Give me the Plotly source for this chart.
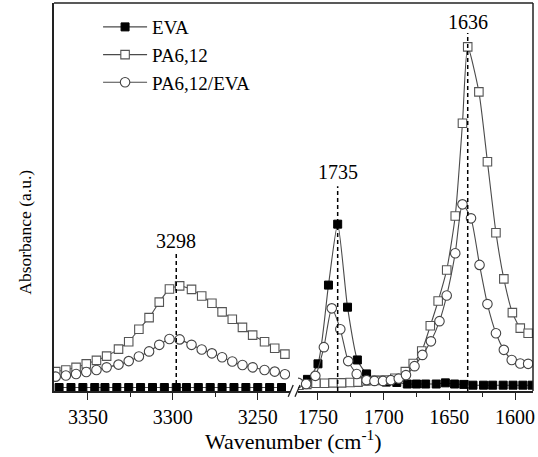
import plotly.graph_objects as go

# ---- Spectra, high-wavenumber window (N-H stretch region) ----
wn_hi_eva = [3367, 3360, 3353, 3346, 3340, 3333, 3326, 3319, 3312, 3305, 3298,
             3292, 3285, 3278, 3271, 3264, 3257, 3250, 3243, 3236]
abs_hi_eva = [0.009] * 20

wn_hi_pa = [3369, 3363, 3357, 3351, 3345, 3339, 3332, 3326, 3320, 3314, 3308, 3302,
            3296, 3289, 3283, 3277, 3271, 3265, 3259, 3253, 3246, 3240, 3234]
abs_hi_pa = [0.050, 0.054, 0.061, 0.070, 0.079, 0.090, 0.108, 0.127, 0.159, 0.189,
             0.229, 0.263, 0.271, 0.262, 0.245, 0.226, 0.204, 0.185, 0.164, 0.144,
             0.127, 0.110, 0.095]

wn_hi_blend = wn_hi_pa
abs_hi_blend = [0.037, 0.040, 0.044, 0.049, 0.054, 0.061, 0.068, 0.077, 0.089, 0.102,
                0.119, 0.134, 0.133, 0.119, 0.107, 0.097, 0.087, 0.076, 0.067, 0.061,
                0.054, 0.050, 0.043]

# ---- Spectra, carbonyl / amide I window ----
wn_lo_eva = [1764, 1758, 1750, 1742, 1735, 1727.5, 1720, 1713, 1706, 1698, 1690, 1682,
             1675, 1668, 1660, 1653, 1646, 1639, 1632, 1624, 1617, 1609, 1601.5, 1594, 1587]
abs_lo_eva = [0.015, 0.030, 0.070, 0.273, 0.430, 0.216, 0.080, 0.044, 0.028, 0.023,
              0.022, 0.018, 0.018, 0.018, 0.018, 0.021, 0.018, 0.017, 0.015, 0.015,
              0.015, 0.015, 0.015, 0.015, 0.015]

wn_lo_pa = [1765, 1758.5, 1751.5, 1745, 1738.5, 1732, 1725.5, 1719.5, 1713.5, 1706, 1699,
            1691.5, 1683.5, 1677.5, 1671, 1664.5, 1658.5, 1652, 1645.5, 1640, 1636,
            1627.5, 1621, 1614.5, 1608.5, 1602, 1596, 1590]
abs_lo_pa = [0.015, 0.017, 0.020, 0.020, 0.021, 0.021, 0.022, 0.023, 0.026, 0.027,
             0.028, 0.033, 0.050, 0.071, 0.103, 0.168, 0.232, 0.312, 0.451, 0.690,
             0.887, 0.771, 0.591, 0.408, 0.289, 0.202, 0.162, 0.149]

wn_lo_blend = [1765, 1759, 1752, 1745.5, 1739.5, 1733, 1727, 1720.5, 1713, 1707, 1700.5,
               1694.5, 1688.5, 1683, 1676.5, 1670.5, 1664, 1657.5, 1652, 1645.5, 1640,
               1633.5, 1627, 1621, 1614.5, 1608.5, 1602.5, 1596, 1590]
abs_lo_blend = [0.021, 0.018, 0.039, 0.113, 0.213, 0.159, 0.077, 0.044, 0.028, 0.026,
                0.026, 0.028, 0.032, 0.041, 0.064, 0.093, 0.128, 0.180, 0.246, 0.355,
                0.481, 0.445, 0.325, 0.224, 0.149, 0.106, 0.080, 0.071, 0.070]

series_names = ["EVA", "PA6,12", "PA6,12/EVA"]

# Peak assignments: (wavenumber, label height, dashed-line top)
peak_wn = [3298, 1735, 1636]
peak_axis = ["x", "x2", "x2"]
peak_label_y = [0.387, 0.564, 0.951]
peak_line_top = [0.358, 0.528, 0.923]

x_hi_range = [3370, 3231]
x_lo_range = [1765.2, 1586.3]

FONT = "Liberation Serif"
LINE_C = "#4a4a4a"
FRAME_C = "#222222"

styles = [
    dict(symbol="square", size=8, color="black", line=dict(color="black", width=1)),
    dict(symbol="square", size=8.5, color="white", line=dict(color="#555555", width=1.1)),
    dict(symbol="circle", size=9.5, color="white", line=dict(color="#444444", width=1.1)),
]

hi_data = [(wn_hi_eva, abs_hi_eva), (wn_hi_pa, abs_hi_pa), (wn_hi_blend, abs_hi_blend)]
lo_data = [(wn_lo_eva, abs_lo_eva), (wn_lo_pa, abs_lo_pa), (wn_lo_blend, abs_lo_blend)]

fig = go.Figure()
for i, name in enumerate(series_names):
    xs, ys = hi_data[i]
    fig.add_trace(go.Scatter(
        x=xs, y=ys, name=name, mode="lines+markers", xaxis="x", yaxis="y",
        line=dict(color=LINE_C, width=1.1, shape="spline", smoothing=0.6),
        marker=styles[i], legendgroup=name, showlegend=True))
for i, name in enumerate(series_names):
    xs, ys = lo_data[i]
    fig.add_trace(go.Scatter(
        x=xs, y=ys, name=name, mode="lines+markers", xaxis="x2", yaxis="y",
        line=dict(color=LINE_C, width=1.1, shape="spline", smoothing=0.6),
        marker=styles[i], legendgroup=name, showlegend=False))

# Dashed peak markers and their labels
for wn, ax, ly, lt in zip(peak_wn, peak_axis, peak_label_y, peak_line_top):
    fig.add_shape(type="line", xref=ax, yref="y", x0=wn, x1=wn, y0=0, y1=lt,
                  line=dict(color="black", width=1.5, dash="4px,3px"))
    fig.add_annotation(x=wn, y=ly, xref=ax, yref="y", text=str(wn), showarrow=False,
                       font=dict(family=FONT, size=20, color="black"),
                       xanchor="center", yanchor="middle")

# Frame: top and right edges
fig.add_shape(type="line", xref="paper", yref="paper", x0=0, x1=1, y0=1, y1=1,
              line=dict(color=FRAME_C, width=1.5))
fig.add_shape(type="line", xref="paper", yref="paper", x0=1, x1=1, y0=0, y1=1,
              line=dict(color=FRAME_C, width=1.5))

# Axis-break marks
for x0 in [0.4889, 0.5031]:
    fig.add_shape(type="line", xref="paper", yref="paper",
                  x0=x0, x1=x0 + 0.0105, y0=-0.0147, y1=0.0155,
                  line=dict(color=FRAME_C, width=1.3))

# Axis titles
fig.add_annotation(x=0.5, y=-0.126, xref="paper", yref="paper",
                   text="Wavenumber (cm<sup>-1</sup>)", showarrow=False,
                   font=dict(family=FONT, size=22, color="black"),
                   xanchor="center", yanchor="middle")
fig.add_annotation(x=-0.061, y=0.41, xref="paper", yref="paper",
                   text="Absorbance (a.u.)", showarrow=False, textangle=-90,
                   font=dict(family=FONT, size=17.5, color="black"),
                   xanchor="center", yanchor="middle")

xaxis_common = dict(
    showline=True, linecolor=FRAME_C, linewidth=1.5, mirror=False,
    ticks="outside", ticklen=7, tickwidth=1.3, tickcolor=FRAME_C,
    showgrid=False, zeroline=False, dtick=50, tick0=0,
    minor=dict(ticks="outside", ticklen=4, tickwidth=1.2, tickcolor=FRAME_C, dtick=25),
    tickfont=dict(family=FONT, size=20, color="black"),
)

fig.update_layout(
    width=538, height=457,
    margin=dict(l=54, r=5, t=3, b=66),
    paper_bgcolor="white", plot_bgcolor="white",
    xaxis=dict(domain=[0, 0.4927], range=x_hi_range, **xaxis_common),
    xaxis2=dict(domain=[0.5094, 1], range=x_lo_range, anchor="y", **xaxis_common),
    yaxis=dict(range=[0, 1], showline=True, linecolor=FRAME_C, linewidth=1.5,
               showticklabels=False, ticks="", showgrid=False, zeroline=False),
    legend=dict(x=0.092, y=0.987, xanchor="left", yanchor="top",
                bgcolor="rgba(0,0,0,0)", tracegroupgap=0, itemwidth=44,
                font=dict(family=FONT, size=19, color="black")),
    showlegend=True,
)

fig.write_html("out.html")
